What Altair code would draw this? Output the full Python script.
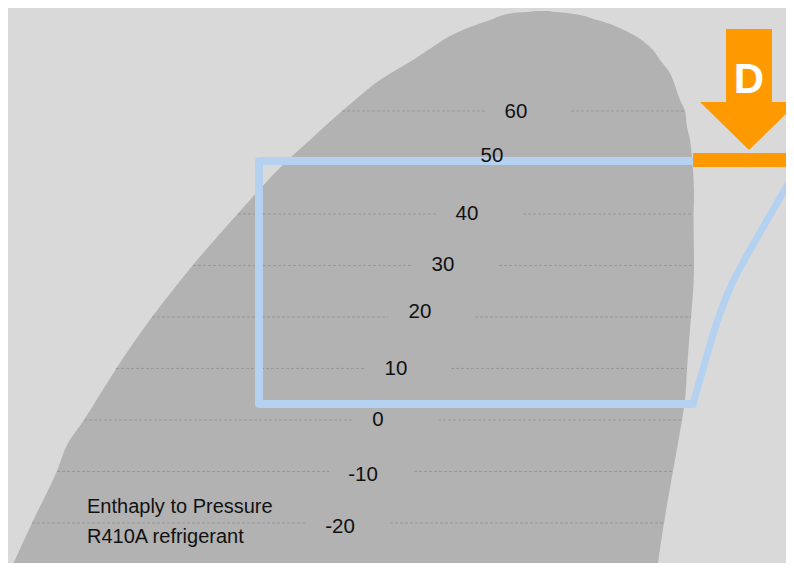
import altair as alt
import pandas as pd

# ---- data (enthalpy h in kJ/kg, saturation temperature T in °C) ----
dome_T = [79.42, 79.22, 79.03, 77.67, 75.15, 71.84, 69.90, 67.38, 66.02, 62.14, 60.0,
          56.89, 54.37, 51.07, 42.72, 40.0, 30.1, 23.30, 20.0, 9.90, 3.88, 0.0,
          -4.47, -9.90, -20.0, -29.32, -31.07]
dome_h_liquid = [417.5, 414, 406.5, 395, 378, 364, 356.5, 345.5, 340, 327.5, 321,
                 312, 305, 295.5, 275, 268.75, 246.5, 232.5, 226, 208, 198.25, 192,
                 184, 178.5, 166, 155, 153]
dome_h_vapour = [424, 428, 433.5, 448.5, 465, 476.5, 480, 485, 486.5, 490, 492.5,
                 493.5, 495, 496, 497, 496.75, 497, 496.25, 495.5, 493.5, 492.5, 491,
                 489, 486.5, 482, 478.5, 478]

iso_T = [60, 50, 40, 30, 20, 10, 0, -10, -20]
iso_h_start = [321, 293.5, 269, 246.5, 226, 208, 192, 178.5, 166]
iso_h_gap_start = [393, 381, 368.5, 356.5, 344, 333, 327, 314.5, 303]
iso_h_gap_end = [435.5, 423.5, 411.5, 399.5, 387.5, 375.5, 369, 357, 345]
iso_h_end = [492.5, 496.5, 496.5, 497, 495.5, 493.5, 491, 486.5, 482]
iso_label_h = [408, 396, 383.5, 371.5, 360, 348, 339, 331.5, 320]
iso_label_T = [59.9, 51.26, 40.0, 30.1, 20.97, 9.9, 0.0, -10.68, -20.78]
iso_labels = ["60", "50", "40", "30", "20", "10", "0", "-10", "-20"]

# refrigeration cycle (box part and compression curve)
cycle_h = [496.5, 279.5, 279.5, 496.5]
cycle_T = [3.11, 3.11, 50.29, 50.29]
comp_h = [496.5, 502.5, 508.5, 515, 522.5, 531, 540, 550]
comp_T = [3.11, 11.26, 19.03, 25.63, 31.26, 37.09, 43.11, 49.90]

# condenser highlight (orange bar) and arrow "D"
bar_h = [496.5, 550]
bar_T = [51.84, 49.13]
shaft_h = [513, 536]
shaft_T = [75.92, 61.75]
head_h = [500, 524.5, 549]
head_T_top = [61.75, 61.75, 61.75]
head_T_bottom = [61.75, 52.43, 61.75]
arrow_label = "D"
arrow_label_h = 524.5
arrow_label_T = 66.0

title_lines = ["Enthaply to Pressure", "R410A refrigerant"]
title_h = 193.5
title_T = [-18.06, -23.88]

# ---- scales ----
xs = alt.Scale(domain=[154, 543], nice=False, zero=False)
ys = alt.Scale(domain=[-27.77, 80.0], nice=False, zero=False)
X = lambda f: alt.X(f, type="quantitative", scale=xs, axis=None)
Y = lambda f: alt.Y(f, type="quantitative", scale=ys, axis=None)

FONT = "Liberation Sans, Arial, sans-serif"

dome = alt.Chart(pd.DataFrame({"T": dome_T, "hl": dome_h_liquid, "hv": dome_h_vapour})).mark_area(
    orient="horizontal", interpolate="monotone", color="#b2b2b2", clip=True
).encode(y=Y("T"), x=X("hl"), x2="hv")

segs = pd.DataFrame({
    "T": iso_T + iso_T,
    "h1": iso_h_start + iso_h_gap_end,
    "h2": iso_h_gap_start + iso_h_end,
})
iso = alt.Chart(segs).mark_rule(color="#929292", strokeWidth=0.8, strokeDash=[3, 2]).encode(
    y=Y("T"), x=X("h1"), x2="h2"
)

iso_text = alt.Chart(pd.DataFrame({"h": iso_label_h, "T": iso_label_T, "t": iso_labels})).mark_text(
    font=FONT, fontSize=20.5, color="#111111", align="center", baseline="middle"
).encode(x=X("h"), y=Y("T"), text="t:N")

cyc = alt.Chart(pd.DataFrame({"h": cycle_h, "T": cycle_T, "o": list(range(len(cycle_h)))})).mark_line(
    color="#b4d2f0", strokeWidth=8, strokeJoin="round", strokeCap="round", clip=True
).encode(x=X("h"), y=Y("T"), order="o:Q")

comp = alt.Chart(pd.DataFrame({"h": comp_h, "T": comp_T})).mark_line(
    color="#b4d2f0", strokeWidth=7, interpolate="monotone", strokeCap="round", clip=True
).encode(x=X("h"), y=Y("T"))

bar = alt.Chart(pd.DataFrame({"h1": [bar_h[0]], "h2": [bar_h[1]], "t1": [bar_T[0]], "t2": [bar_T[1]]})).mark_rect(
    color="#ff9900", clip=True
).encode(x=X("h1"), x2="h2", y=Y("t1"), y2="t2")

shaft = alt.Chart(pd.DataFrame({"h1": [shaft_h[0]], "h2": [shaft_h[1]], "t1": [shaft_T[0]], "t2": [shaft_T[1]]})).mark_rect(
    color="#ff9900"
).encode(x=X("h1"), x2="h2", y=Y("t1"), y2="t2")

head = alt.Chart(pd.DataFrame({"h": head_h, "t1": head_T_top, "t2": head_T_bottom})).mark_area(
    color="#ff9900", clip=True
).encode(x=X("h"), y=Y("t1"), y2="t2")

dlabel = alt.Chart(pd.DataFrame({"h": [arrow_label_h], "T": [arrow_label_T], "t": [arrow_label]})).mark_text(
    font=FONT, fontSize=42, fontWeight="bold", color="#ffffff", align="center", baseline="middle"
).encode(x=X("h"), y=Y("T"), text="t:N")

title = alt.Chart(pd.DataFrame({"h": [title_h, title_h], "T": title_T, "t": title_lines})).mark_text(
    font=FONT, fontSize=20, color="#111111", align="left", baseline="alphabetic"
).encode(x=X("h"), y=Y("T"), text="t:N")

chart = alt.layer(dome, iso, cyc, comp, iso_text, bar, shaft, head, dlabel, title).properties(
    width=778, height=555, padding=0, autosize=alt.AutoSizeParams(type="none"),
    background="#d9d9d9"
).configure_view(stroke=None)

chart.save("out.html", embed_options={"renderer": "svg", "actions": False})
